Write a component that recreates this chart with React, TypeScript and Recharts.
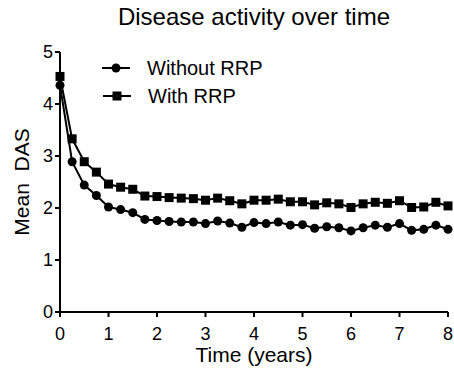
import { Label, Line, LineChart, XAxis, YAxis } from "recharts";

const FONT = '"Liberation Sans", Arial, sans-serif';
const INK = "#000000";

const years = [
  0, 0.25, 0.5, 0.75, 1, 1.25, 1.5, 1.75, 2, 2.25, 2.5, 2.75, 3, 3.25, 3.5, 3.75, 4,
  4.25, 4.5, 4.75, 5, 5.25, 5.5, 5.75, 6, 6.25, 6.5, 6.75, 7, 7.25, 7.5, 7.75, 8,
];

const withoutRrp = [
  4.36, 2.89, 2.44, 2.24, 2.02, 1.97, 1.91, 1.78, 1.76, 1.74, 1.73, 1.73, 1.7, 1.75,
  1.71, 1.63, 1.72, 1.7, 1.73, 1.67, 1.68, 1.61, 1.64, 1.62, 1.56, 1.62, 1.67, 1.63,
  1.7, 1.57, 1.59, 1.67, 1.59,
];

const withRrp = [
  4.53, 3.33, 2.89, 2.69, 2.46, 2.4, 2.36, 2.23, 2.22, 2.2, 2.19, 2.18, 2.15, 2.19,
  2.14, 2.08, 2.15, 2.15, 2.17, 2.12, 2.12, 2.06, 2.1, 2.08, 2.01, 2.08, 2.11, 2.09,
  2.14, 2.01, 2.02, 2.11, 2.04,
];

const xTicks = [0, 1, 2, 3, 4, 5, 6, 7, 8];
const yTicks = [0, 1, 2, 3, 4, 5];

const SERIES_WITHOUT = "Without RRP";
const SERIES_WITH = "With RRP";

const chartData = years.map((x, i) => ({
  x,
  without: withoutRrp[i],
  with: withRrp[i],
}));

const tickStyle = { fill: INK, fontSize: 18, fontFamily: FONT };

function SquareDot(props: any) {
  const { cx, cy, index } = props;
  if (cx == null || cy == null) return null;
  return <rect key={`sq-${index}`} x={cx - 4.5} y={cy - 4.5} width={9} height={9} fill={INK} />;
}

// rotated y-axis title, centred on the plot height
function YLabel(props: any) {
  const vb = props.viewBox || {};
  const cy = (vb.y ?? 52) + (vb.height ?? 260) / 2;
  const x = 21;
  return (
    <text
      x={x}
      y={cy}
      transform={`rotate(-90, ${x}, ${cy})`}
      textAnchor="middle"
      dominantBaseline="central"
      fill={INK}
      fontSize={21}
      fontFamily={FONT}
      style={{ whiteSpace: "pre" }}
    >
      {"Mean  DAS"}
    </text>
  );
}

function ChartLegend() {
  return (
    <svg width={220} height={64} style={{ position: "absolute", left: 95, top: 50 }}>
      <line x1={7} y1={18} x2={35} y2={18} stroke={INK} strokeWidth={2} />
      <circle cx={21} cy={18} r={4.5} fill={INK} />
      <text x={52} y={18} dominantBaseline="central" fontSize={20} fontFamily={FONT} fill={INK}>
        {SERIES_WITHOUT}
      </text>
      <line x1={8} y1={46} x2={36} y2={46} stroke={INK} strokeWidth={2} />
      <rect x={17.5} y={41.5} width={9} height={9} fill={INK} />
      <text x={53} y={46} dominantBaseline="central" fontSize={20} fontFamily={FONT} fill={INK}>
        {SERIES_WITH}
      </text>
    </svg>
  );
}

export default function App() {
  return (
    <div
      style={{
        position: "absolute",
        left: 0,
        top: 0,
        width: 454,
        height: 377,
        background: "#ffffff",
        fontFamily: FONT,
      }}
    >
      <div
        style={{
          position: "absolute",
          left: 60,
          width: 388,
          top: 0,
          textAlign: "center",
          fontSize: 24,
          lineHeight: "34px",
          color: INK,
        }}
      >
        Disease activity over time
      </div>
      <div style={{ position: "absolute", left: 0, top: 0 }}>
        <LineChart
          width={454}
          height={377}
          data={chartData}
          margin={{ top: 52, right: 6, bottom: 0, left: 0 }}
        >
          <XAxis
            dataKey="x"
            type="number"
            domain={[0, 8]}
            ticks={xTicks}
            height={65}
            tickSize={5}
            tickMargin={10}
            axisLine={{ stroke: INK, strokeWidth: 2 }}
            tickLine={{ stroke: INK, strokeWidth: 2 }}
            tick={tickStyle}
          >
            <Label
              value="Time (years)"
              position="insideBottom"
              offset={15}
              fill={INK}
              fontSize={21}
              fontFamily={FONT}
            />
          </XAxis>
          <YAxis
            type="number"
            domain={[0, 5]}
            ticks={yTicks}
            width={60}
            tickSize={5}
            tickMargin={2}
            axisLine={{ stroke: INK, strokeWidth: 2 }}
            tickLine={{ stroke: INK, strokeWidth: 2 }}
            tick={tickStyle}
          >
            <Label content={<YLabel />} />
          </YAxis>
          <Line
            type="linear"
            dataKey="without"
            name={SERIES_WITHOUT}
            stroke={INK}
            strokeWidth={2}
            dot={{ r: 4.5, fill: INK, stroke: INK, strokeWidth: 0 }}
            activeDot={false}
            isAnimationActive={false}
          />
          <Line
            type="linear"
            dataKey="with"
            name={SERIES_WITH}
            stroke={INK}
            strokeWidth={2}
            dot={<SquareDot />}
            activeDot={false}
            isAnimationActive={false}
          />
        </LineChart>
      </div>
      <ChartLegend />
    </div>
  );
}
